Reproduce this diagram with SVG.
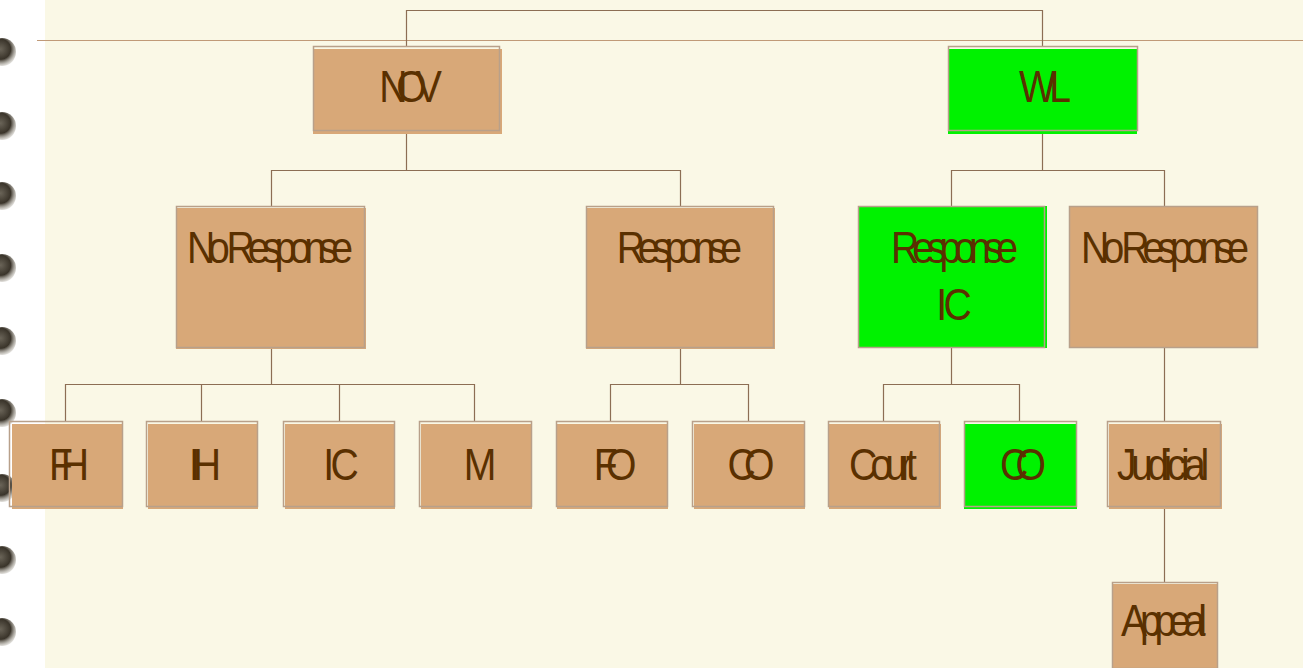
<svg xmlns="http://www.w3.org/2000/svg" width="1303" height="668" viewBox="0 0 1303 668">
<defs>
<radialGradient id="ring" cx="0.45" cy="0.4" r="0.6">
<stop offset="0" stop-color="#6a6458"/>
<stop offset="0.6" stop-color="#3a342a"/>
<stop offset="1" stop-color="#9a9486" stop-opacity="0.3"/>
</radialGradient>
<style>
.tan{fill:#D8A878}
.grn{fill:#00F200}
.ol{fill:none;stroke:#B8A08A;stroke-width:1.5}
.t{font-family:"Liberation Sans",Arial,sans-serif;font-size:45px;fill:#5A3000;text-anchor:middle}
.c{fill:none;stroke:#8C6E54;stroke-width:1.2}
</style>
</defs>
<rect x="0" y="0" width="1303" height="668" fill="#FFFFFF"/>
<rect x="45" y="0" width="1258" height="668" fill="#FAF8E6"/>
<g id="rings" fill="url(#ring)">
<circle cx="2" cy="52" r="14"/>
<circle cx="2" cy="126" r="14"/>
<circle cx="2" cy="196" r="14"/>
<circle cx="2" cy="268" r="14"/>
<circle cx="2" cy="341" r="14"/>
<circle cx="2" cy="413" r="14"/>
<circle cx="2" cy="488" r="14"/>
<circle cx="2" cy="560" r="14"/>
<circle cx="2" cy="632" r="14"/>
</g>
<line x1="37" y1="40.5" x2="1303" y2="40.5" stroke="#C09A78" stroke-width="1.2"/>
<g id="connectors" class="c">
<polyline points="406.5,46 406.5,10.5 1042.5,10.5 1042.5,46"/>
<polyline points="406.5,133 406.5,170.5"/>
<polyline points="271.5,206 271.5,170.5 680.5,170.5 680.5,206"/>
<polyline points="1042.5,133 1042.5,170.5"/>
<polyline points="951.5,206 951.5,170.5 1164.5,170.5 1164.5,206"/>
<polyline points="271.5,348 271.5,384.5"/>
<polyline points="65.5,421 65.5,384.5 474.5,384.5 474.5,421"/>
<polyline points="201.5,384.5 201.5,421"/>
<polyline points="339.5,384.5 339.5,421"/>
<polyline points="680.5,348 680.5,384.5"/>
<polyline points="610.5,421 610.5,384.5 748.5,384.5 748.5,421"/>
<polyline points="951.5,348 951.5,384.5"/>
<polyline points="883.5,421 883.5,384.5 1019.5,384.5 1019.5,421"/>
<polyline points="1164.5,348 1164.5,421"/>
<polyline points="1164.5,508 1164.5,582"/>
</g>
<g id="nov"><rect class="tan" x="313" y="49" width="189" height="85"/><rect class="ol" x="313.5" y="46.5" width="186" height="84"/><text class="t" transform="translate(410.5,101.5) scale(0.87,1)" textLength="72" lengthAdjust="spacing">NOV</text></g>
<g id="wl"><rect class="grn" x="948" y="49" width="189" height="85"/><rect class="ol" x="948.5" y="46.5" width="189" height="84"/><text class="t" transform="translate(1045,101.5) scale(0.87,1)" textLength="60" lengthAdjust="spacing">WL</text></g>
<g id="noresp1"><rect class="tan" x="176" y="208" width="190" height="141"/><rect class="ol" x="176.5" y="206.5" width="188" height="141"/><text class="t" transform="translate(270,262.5) scale(0.87,1)" textLength="191" lengthAdjust="spacing">No Response</text></g>
<g id="resp1"><rect class="tan" x="586" y="208" width="189" height="141"/><rect class="ol" x="586.5" y="206.5" width="187" height="141"/><text class="t" transform="translate(679.5,262.5) scale(0.87,1)" textLength="144" lengthAdjust="spacing">Response</text></g>
<g id="respic"><rect class="grn" x="858" y="206" width="189" height="142"/><rect class="ol" x="858.5" y="206.5" width="186" height="141"/><text class="t" transform="translate(954.5,262.5) scale(0.87,1)" textLength="146" lengthAdjust="spacing">Response</text><text class="t" transform="translate(954,319.5) scale(0.87,1)" textLength="41" lengthAdjust="spacing">IC</text></g>
<g id="noresp2"><rect class="tan" x="1070" y="206" width="188" height="142"/><rect class="ol" x="1069.5" y="206.5" width="188" height="141"/><text class="t" transform="translate(1165,262.5) scale(0.87,1)" textLength="193" lengthAdjust="spacing">No Response</text></g>
<g id="fh"><rect class="tan" x="12" y="424" width="111" height="85"/><rect class="ol" x="9.5" y="421.5" width="113" height="85"/><text class="t" transform="translate(69,479.5) scale(0.87,1)" textLength="46" lengthAdjust="spacing">FH</text></g>
<g id="ih"><rect class="tan" x="148" y="424" width="110" height="85"/><rect class="ol" x="146.5" y="421.5" width="111" height="85"/><text class="t" transform="translate(205,479.5) scale(0.87,1)" textLength="37" lengthAdjust="spacing">IH</text></g>
<g id="ic"><rect class="tan" x="285" y="424" width="110" height="85"/><rect class="ol" x="283.5" y="421.5" width="111" height="85"/><text class="t" transform="translate(341,479.5) scale(0.87,1)" textLength="41" lengthAdjust="spacing">IC</text></g>
<g id="m"><rect class="tan" x="421" y="424" width="111" height="85"/><rect class="ol" x="419.5" y="421.5" width="112" height="85"/><text class="t" transform="translate(480,479.5) scale(0.87,1)" textLength="35" lengthAdjust="spacing">M</text></g>
<g id="fo"><rect class="tan" x="557" y="424" width="111" height="85"/><rect class="ol" x="556.5" y="421.5" width="111" height="85"/><text class="t" transform="translate(615,479.5) scale(0.87,1)" textLength="49" lengthAdjust="spacing">FO</text></g>
<g id="co1"><rect class="tan" x="694" y="424" width="111" height="85"/><rect class="ol" x="692.5" y="421.5" width="112" height="85"/><text class="t" transform="translate(751,479.5) scale(0.87,1)" textLength="54" lengthAdjust="spacing">CO</text></g>
<g id="court"><rect class="tan" x="829" y="424" width="112" height="85"/><rect class="ol" x="828.5" y="421.5" width="111" height="85"/><text class="t" transform="translate(883,479.5) scale(0.87,1)" textLength="78" lengthAdjust="spacing">Court</text></g>
<g id="co2"><rect class="grn" x="964" y="424" width="113" height="85"/><rect class="ol" x="964.5" y="421.5" width="112" height="85"/><text class="t" transform="translate(1023,479.5) scale(0.87,1)" textLength="53" lengthAdjust="spacing">CO</text></g>
<g id="judicial"><rect class="tan" x="1109" y="424" width="113" height="85"/><rect class="ol" x="1107.5" y="421.5" width="113" height="85"/><text class="t" transform="translate(1163,479.5) scale(0.87,1)" textLength="106" lengthAdjust="spacing">Judicial</text></g>
<g id="appeal"><rect class="tan" x="1112" y="584" width="106" height="84"/><rect class="ol" x="1112.5" y="582.5" width="105" height="86"/><text class="t" transform="translate(1164,636) scale(0.87,1)" textLength="99" lengthAdjust="spacing">Appeal</text></g>
</svg>
